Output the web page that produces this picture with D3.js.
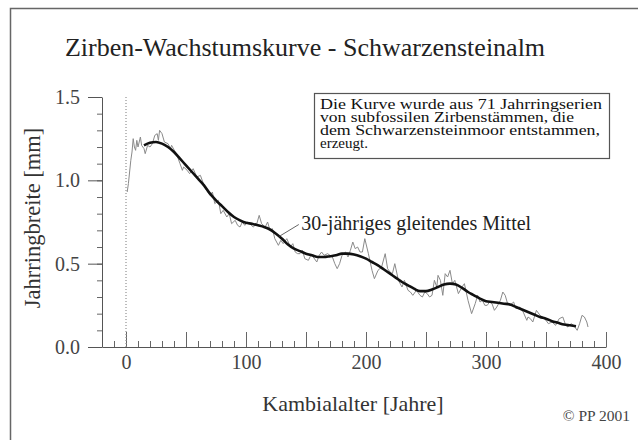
<!DOCTYPE html>
<html>
<head>
<meta charset="utf-8">
<script src="https://cdn.jsdelivr.net/npm/d3@7"></script>
<style>
  body { margin: 0; background: #fff; }
  text { font-family: "Liberation Serif", "Times New Roman", serif; }
</style>
</head>
<body>
<div id="chart"></div>
<script>
// ring widths per cambial age (raw mean series)
const rawAge = [1,2,3,4,5,6,7,8,9,10,12,13,15,16,18,20,22,24,26,27,28,30,32,35,37,38,41,43,45,47,48,51,53,56,59,62,64,67,70,72,74,77,79,81,84,86,88,91,93,95,97,99,101,103,106,109,111,113,116,118,120,122,124,127,129,131,134,137,139,141,143,145,147,149,152,154,156,159,161,163,165,168,172,174,176,178,180,183,185,187,189,191,193,195,197,199,202,205,207,210,213,216,218,220,222,224,227,230,232,235,237,239,242,245,247,249,251,253,255,257,259,260,262,264,266,268,270,272,274,277,280,282,285,288,291,293,295,297,299,301,303,305,307,309,312,314,316,318,320,323,325,328,331,334,335,337,339,342,345,347,350,352,355,358,361,364,366,368,371,373,376,378,380,382,384,385];
const rawWidth = [0.93,0.98,1.05,1.12,1.17,1.25,1.20,1.18,1.24,1.20,1.26,1.21,1.19,1.16,1.21,1.20,1.22,1.27,1.28,1.24,1.30,1.28,1.23,1.22,1.19,1.21,1.17,1.14,1.10,1.06,1.08,1.06,1.04,1.07,1.02,1.03,0.99,0.94,0.91,0.93,0.86,0.88,0.80,0.82,0.78,0.80,0.74,0.76,0.73,0.72,0.75,0.73,0.75,0.74,0.72,0.74,0.79,0.74,0.72,0.75,0.70,0.71,0.65,0.61,0.64,0.62,0.65,0.60,0.62,0.57,0.56,0.56,0.58,0.53,0.52,0.55,0.54,0.51,0.55,0.57,0.55,0.56,0.54,0.50,0.47,0.50,0.55,0.57,0.54,0.58,0.63,0.59,0.60,0.57,0.57,0.65,0.56,0.46,0.41,0.46,0.48,0.56,0.47,0.45,0.44,0.50,0.40,0.36,0.40,0.34,0.33,0.31,0.34,0.31,0.30,0.33,0.32,0.30,0.31,0.40,0.36,0.43,0.40,0.31,0.44,0.42,0.46,0.38,0.40,0.32,0.36,0.38,0.28,0.20,0.26,0.31,0.27,0.28,0.25,0.25,0.27,0.26,0.22,0.24,0.28,0.33,0.31,0.26,0.25,0.27,0.23,0.24,0.21,0.16,0.18,0.17,0.15,0.22,0.19,0.18,0.16,0.14,0.15,0.13,0.17,0.18,0.14,0.12,0.14,0.13,0.10,0.14,0.19,0.18,0.15,0.12];

// 30-year moving average
const smoothAge = [15,20,25,30,35,40,45,50,55,60,65,70,75,80,85,90,95,100,105,110,115,120,125,130,135,140,145,150,155,160,165,170,175,180,185,190,195,200,205,210,215,220,225,230,235,240,245,250,255,260,265,270,275,280,285,290,295,300,305,310,315,320,325,330,335,340,345,350,355,360,365,370,375];
const smoothWidth = [1.21,1.225,1.23,1.22,1.20,1.17,1.13,1.09,1.05,1.01,0.97,0.92,0.88,0.845,0.81,0.78,0.76,0.745,0.74,0.73,0.72,0.705,0.68,0.65,0.615,0.59,0.575,0.56,0.55,0.54,0.54,0.545,0.55,0.56,0.56,0.555,0.545,0.53,0.51,0.49,0.465,0.44,0.415,0.39,0.37,0.35,0.335,0.335,0.345,0.36,0.375,0.38,0.375,0.355,0.33,0.31,0.29,0.275,0.27,0.265,0.26,0.255,0.24,0.225,0.21,0.195,0.18,0.17,0.155,0.145,0.135,0.13,0.125];

const xMajorTicks = [0, 100, 200, 300, 400];
const xMidTicks = [50, 150, 250, 350];
const yMajorTicks = [0, 0.5, 1.0, 1.5];

const noteLines = [
  'Die Kurve wurde aus 71 Jahrringserien',
  'von subfossilen Zirbenstämmen, die',
  'dem Schwarzensteinmoor entstammen,',
  'erzeugt.'
];

const W = 638, H = 440;
const margin = { top: 97, right: 32, bottom: 93, left: 102 };

const x = d3.scaleLinear().domain([-20, 400]).range([margin.left, W - margin.right]);
const y = d3.scaleLinear().domain([0, 1.5]).range([H - margin.bottom, margin.top]);

const svg = d3.select('#chart').append('svg')
    .attr('width', W)
    .attr('height', H);

// outer frame (right and bottom edges fall outside the picture)
svg.append('rect')
    .attr('x', 10.5).attr('y', 8.5)
    .attr('width', 660).attr('height', 460)
    .attr('fill', 'none')
    .attr('stroke', '#666')
    .attr('stroke-width', 1.5);

svg.append('text')
    .attr('x', 305).attr('y', 56)
    .attr('text-anchor', 'middle')
    .style('font-size', '26px')
    .style('fill', '#222')
    .text('Zirben-Wachstumskurve - Schwarzensteinalm');

// y axis: major ticks with labels, minor ticks every 0.1
const yMinor = d3.range(0, 1.51, 0.1).map(d => +d.toFixed(1));
svg.append('g')
    .attr('transform', `translate(${margin.left},0)`)
    .call(d3.axisLeft(y).tickValues(yMinor).tickSize(5).tickSizeOuter(0).tickFormat(''))
    .call(g => g.select('.domain').attr('stroke', '#555'))
    .call(g => g.selectAll('line').attr('stroke', '#666'));

svg.append('g')
    .attr('transform', `translate(${margin.left},0)`)
    .call(d3.axisLeft(y).tickValues(yMajorTicks).tickSize(14).tickPadding(8)
      .tickFormat(d3.format('.1f')))
    .call(g => g.select('.domain').remove())
    .call(g => g.selectAll('line').attr('stroke', '#555'))
    .call(g => g.selectAll('text')
      .style('font-size', '20px')
      .style('font-family', '"Liberation Serif", serif')
      .style('fill', '#444'));

// x axis: ticks point up into the plot
const xMinor = d3.range(-10, 401, 10);
svg.append('g')
    .attr('transform', `translate(0,${y(0)})`)
    .call(d3.axisBottom(x).tickValues(xMinor).tickSize(-6).tickSizeOuter(0).tickFormat(''))
    .call(g => g.select('.domain').attr('stroke', '#555'))
    .call(g => g.selectAll('line').attr('stroke', '#666'));

svg.append('g')
    .attr('transform', `translate(0,${y(0)})`)
    .call(d3.axisBottom(x).tickValues(xMidTicks.concat(xMajorTicks)).tickSize(-15).tickFormat(''))
    .call(g => g.select('.domain').remove())
    .call(g => g.selectAll('line').attr('stroke', '#666'));

svg.append('g')
    .attr('transform', `translate(0,${y(0)})`)
    .call(d3.axisBottom(x).tickValues(xMajorTicks).tickSize(0).tickPadding(8))
    .call(g => g.select('.domain').remove())
    .call(g => g.selectAll('text')
      .style('font-size', '20px')
      .style('font-family', '"Liberation Serif", serif')
      .style('fill', '#444'));

svg.append('text')
    .attr('transform', `translate(40,${(y(0) + y(1.5)) / 2 - 4}) rotate(-90)`)
    .attr('text-anchor', 'middle')
    .style('font-size', '22.5px')
    .style('fill', '#333')
    .text('Jahrringbreite [mm]');

svg.append('text')
    .attr('x', 353).attr('y', 411)
    .attr('text-anchor', 'middle')
    .style('font-size', '22px')
    .style('fill', '#333')
    .text('Kambialalter [Jahre]');

svg.append('text')
    .attr('x', 630).attr('y', 421)
    .attr('text-anchor', 'end')
    .style('font-size', '15.5px')
    .style('fill', '#444')
    .text('© PP 2001');

// dotted line at age 0
svg.append('line')
    .attr('x1', x(0)).attr('x2', x(0))
    .attr('y1', y(1.5)).attr('y2', y(0))
    .attr('stroke', '#999')
    .attr('stroke-width', 1.3)
    .attr('stroke-dasharray', '1,2');

const raw = rawAge.map((a, i) => ({ age: a, w: rawWidth[i] }));
const smooth = smoothAge.map((a, i) => ({ age: a, w: smoothWidth[i] }));

svg.append('path')
    .datum(raw)
    .attr('fill', 'none')
    .attr('stroke', '#8a8a8a')
    .attr('stroke-width', 1)
    .attr('d', d3.line().x(d => x(d.age)).y(d => y(d.w)));

svg.append('path')
    .datum(smooth)
    .attr('fill', 'none')
    .attr('stroke', '#111')
    .attr('stroke-width', 2.6)
    .attr('stroke-linejoin', 'round')
    .attr('d', d3.line().curve(d3.curveMonotoneX).x(d => x(d.age)).y(d => y(d.w)));

// label for the moving average
svg.append('line')
    .attr('x1', x(128)).attr('y1', y(0.665))
    .attr('x2', x(144)).attr('y2', y(0.735))
    .attr('stroke', '#666')
    .attr('stroke-width', 1);

svg.append('text')
    .attr('x', x(146)).attr('y', y(0.705))
    .style('font-size', '20px')
    .style('fill', '#222')
    .text('30-jähriges gleitendes Mittel');

// note box
const note = svg.append('g');
note.append('rect')
    .attr('x', 314.5).attr('y', 93.5)
    .attr('width', 295).attr('height', 65)
    .attr('fill', '#fff')
    .attr('stroke', '#555')
    .attr('stroke-width', 1.2);

note.selectAll('text')
    .data(noteLines)
  .enter().append('text')
    .attr('x', 320)
    .attr('y', (d, i) => 109 + i * 13)
    .attr('textLength', (d, i) => i === 3 ? null : [282, 254, 280][i])
    .attr('lengthAdjust', 'spacingAndGlyphs')
    .style('font-size', '15px')
    .style('fill', '#111')
    .text(d => d);
</script>
</body>
</html>
